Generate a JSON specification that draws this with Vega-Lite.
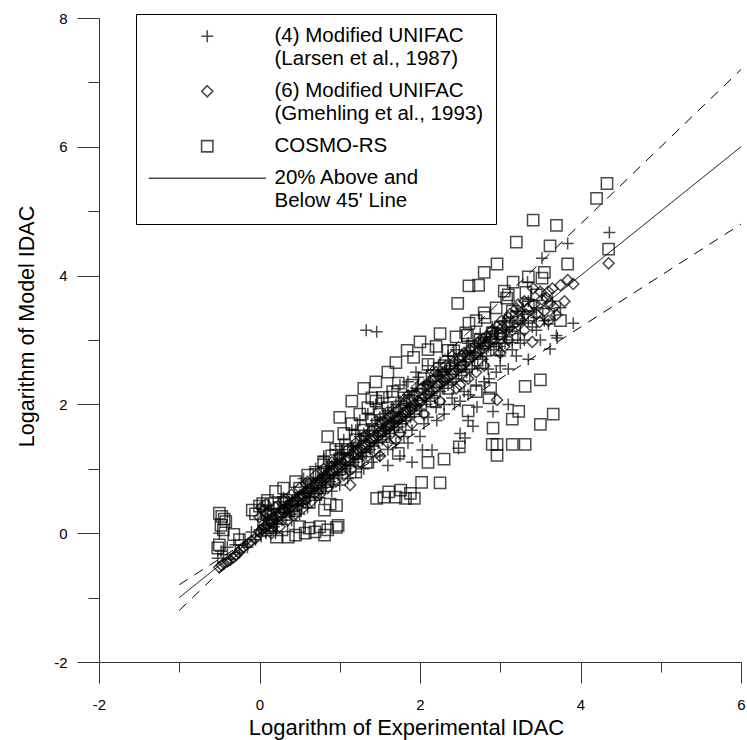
{
"$schema": "https://vega.github.io/schema/vega-lite/v6.json",
"width": 642,
"height": 644,
"autosize": "none",
"padding": {"left": 99, "top": 18, "right": 6, "bottom": 78},
"background": "white",
"config": {"font": "Liberation Sans", "view": {"stroke": null}},
"resolve": {"axis": {"x": "independent", "y": "independent"}},
"datasets": {
"lines": [
{"line": "45", "x": -1, "y": -1}, {"line": "45", "x": 6, "y": 6},
{"line": "upper", "x": -1, "y": -1.2}, {"line": "upper", "x": 6, "y": 7.2},
{"line": "lower", "x": -1, "y": -0.8}, {"line": "lower", "x": 6, "y": 4.8}
],
"larsen": [
{"x":-0.52,"y":-0.39},{"x":-0.5,"y":0.0},{"x":-0.48,"y":-0.28},{"x":-0.45,"y":-0.33},{"x":-0.4,"y":-0.22},{"x":-0.36,"y":-0.4},{"x":-0.3,"y":-0.18},{"x":-0.25,"y":-0.3},{"x":-0.2,"y":-0.1},{"x":-0.15,"y":-0.22},{"x":-0.1,"y":0.02},{"x":-0.05,"y":-0.1},{"x":0.0,"y":0.05},{"x":0.02,"y":-0.05},{"x":0.05,"y":0.12},{"x":0.08,"y":0.0},{"x":0.1,"y":0.2},{"x":0.12,"y":0.08},{"x":0.15,"y":0.3},{"x":0.18,"y":0.1},{"x":0.2,"y":0.25},{"x":0.22,"y":0.15},{"x":0.25,"y":0.38},{"x":0.28,"y":0.2},{"x":0.3,"y":0.32},{"x":0.33,"y":0.25},{"x":0.35,"y":0.45},{"x":0.38,"y":0.3},{"x":0.4,"y":0.5},{"x":0.43,"y":0.35},{"x":0.45,"y":0.55},{"x":0.48,"y":0.42},{"x":0.5,"y":0.6},{"x":0.53,"y":0.45},{"x":0.55,"y":0.62},{"x":0.58,"y":0.5},{"x":0.6,"y":0.72},{"x":0.63,"y":0.55},{"x":0.65,"y":0.7},{"x":0.68,"y":0.62},{"x":0.7,"y":0.82},{"x":0.73,"y":0.65},{"x":0.75,"y":0.85},{"x":0.78,"y":0.7},{"x":0.8,"y":0.9},{"x":0.83,"y":0.75},{"x":0.85,"y":1.0},{"x":0.88,"y":0.8},{"x":0.9,"y":1.05},{"x":0.93,"y":0.85},{"x":0.95,"y":1.1},{"x":0.98,"y":0.9},{"x":1.0,"y":1.15},{"x":1.03,"y":0.95},{"x":1.05,"y":1.25},{"x":1.08,"y":1.0},{"x":1.1,"y":1.3},{"x":1.13,"y":1.05},{"x":1.15,"y":1.35},{"x":1.18,"y":1.1},{"x":1.2,"y":1.4},{"x":1.23,"y":1.15},{"x":1.25,"y":1.5},{"x":1.28,"y":1.2},{"x":1.3,"y":1.55},{"x":1.33,"y":1.25},{"x":1.35,"y":1.6},{"x":1.38,"y":1.3},{"x":1.4,"y":1.7},{"x":1.43,"y":1.35},{"x":1.45,"y":1.75},{"x":1.48,"y":1.4},{"x":1.5,"y":1.8},{"x":1.53,"y":1.45},{"x":1.55,"y":1.85},{"x":1.58,"y":1.5},{"x":1.6,"y":1.9},{"x":1.6,"y":1.05},{"x":1.63,"y":1.55},{"x":1.65,"y":1.95},{"x":1.68,"y":1.6},{"x":1.7,"y":2.0},{"x":1.73,"y":1.65},{"x":1.75,"y":2.05},{"x":1.75,"y":1.2},{"x":1.78,"y":1.7},{"x":1.8,"y":2.1},{"x":1.83,"y":1.75},{"x":1.85,"y":2.15},{"x":1.85,"y":1.4},{"x":1.88,"y":1.8},{"x":1.9,"y":2.2},{"x":1.9,"y":1.1},{"x":1.93,"y":1.85},{"x":1.95,"y":2.25},{"x":1.98,"y":2.42},{"x":2.0,"y":1.9},{"x":2.0,"y":1.5},{"x":2.03,"y":1.29},{"x":2.05,"y":2.3},{"x":2.08,"y":2.0},{"x":2.1,"y":2.35},{"x":2.13,"y":2.05},{"x":2.15,"y":1.29},{"x":2.18,"y":2.1},{"x":2.2,"y":2.45},{"x":2.21,"y":1.75},{"x":2.25,"y":2.2},{"x":2.28,"y":2.5},{"x":2.3,"y":2.25},{"x":2.33,"y":2.55},{"x":2.35,"y":2.3},{"x":2.38,"y":2.6},{"x":2.4,"y":2.35},{"x":2.43,"y":2.0},{"x":2.45,"y":2.4},{"x":2.47,"y":2.66},{"x":2.48,"y":1.32},{"x":2.5,"y":1.55},{"x":2.52,"y":2.45},{"x":2.55,"y":2.75},{"x":2.56,"y":1.48},{"x":2.58,"y":2.5},{"x":2.6,"y":1.75},{"x":2.62,"y":2.8},{"x":2.65,"y":2.55},{"x":2.66,"y":1.66},{"x":2.68,"y":2.9},{"x":2.71,"y":1.96},{"x":2.72,"y":2.6},{"x":2.75,"y":2.95},{"x":2.78,"y":2.7},{"x":2.8,"y":3.0},{"x":2.83,"y":2.75},{"x":2.86,"y":2.4},{"x":2.88,"y":3.05},{"x":2.91,"y":1.89},{"x":2.92,"y":2.85},{"x":2.95,"y":3.1},{"x":2.98,"y":2.9},{"x":3.0,"y":2.6},{"x":3.03,"y":3.15},{"x":3.06,"y":2.95},{"x":3.1,"y":2.0},{"x":3.12,"y":3.2},{"x":3.15,"y":3.0},{"x":3.2,"y":2.75},{"x":3.22,"y":3.3},{"x":3.25,"y":3.1},{"x":3.3,"y":3.4},{"x":3.34,"y":3.9},{"x":3.35,"y":2.7},{"x":3.4,"y":3.2},{"x":3.45,"y":3.5},{"x":3.52,"y":4.27},{"x":3.55,"y":3.3},{"x":3.62,"y":2.86},{"x":3.65,"y":3.6},{"x":3.7,"y":3.07},{"x":3.71,"y":3.03},{"x":3.75,"y":3.5},{"x":3.84,"y":4.5},{"x":3.91,"y":3.26},{"x":4.36,"y":4.67},
{"x":0.1,"y":0.35},{"x":0.2,"y":0.0},{"x":0.3,"y":0.55},{"x":0.4,"y":0.2},{"x":0.5,"y":0.3},{"x":0.55,"y":0.85},{"x":0.6,"y":0.4},{"x":0.7,"y":1.0},{"x":0.75,"y":0.55},{"x":0.8,"y":1.15},{"x":0.9,"y":0.65},{"x":0.95,"y":1.3},{"x":1.0,"y":0.75},{"x":1.05,"y":1.45},{"x":1.1,"y":0.85},{"x":1.15,"y":1.6},{"x":1.2,"y":0.95},{"x":1.25,"y":1.75},{"x":1.3,"y":1.0},{"x":1.35,"y":1.85},{"x":1.4,"y":1.1},{"x":1.45,"y":2.0},{"x":1.5,"y":1.2},{"x":1.55,"y":2.1},{"x":1.6,"y":1.3},{"x":1.65,"y":2.2},{"x":1.7,"y":1.4},{"x":1.75,"y":2.3},{"x":1.8,"y":1.5},{"x":1.85,"y":2.35},{"x":1.9,"y":1.6},{"x":1.95,"y":2.5},{"x":2.05,"y":1.7},{"x":2.1,"y":2.6},{"x":2.2,"y":1.95},{"x":2.25,"y":2.65},{"x":2.3,"y":2.0},{"x":2.35,"y":2.75},{"x":2.4,"y":2.1},{"x":2.45,"y":2.85},{"x":2.55,"y":2.2},{"x":2.6,"y":2.95},{"x":2.7,"y":2.3},{"x":2.75,"y":3.1},{"x":2.85,"y":2.55},{"x":2.9,"y":3.2},{"x":3.0,"y":2.75},{"x":3.05,"y":3.3},{"x":3.15,"y":2.85},{"x":3.2,"y":3.45},{"x":3.3,"y":3.0},{"x":3.35,"y":3.6},{"x":3.45,"y":3.15},{"x":1.33,"y":3.15},{"x":1.46,"y":3.13},
{"x":1.55,"y":1.65},{"x":1.65,"y":1.75},{"x":1.75,"y":1.85},{"x":1.85,"y":1.95},{"x":1.95,"y":2.0},{"x":2.05,"y":2.1},{"x":2.15,"y":2.2},{"x":2.25,"y":2.35},{"x":2.35,"y":2.4},{"x":2.45,"y":2.55},{"x":2.55,"y":2.6},{"x":2.65,"y":2.7},{"x":2.75,"y":2.8},{"x":2.85,"y":2.9},{"x":2.95,"y":2.95},{"x":3.05,"y":3.05},{"x":3.15,"y":3.2},{"x":3.25,"y":3.25},{"x":3.35,"y":3.3},{"x":3.45,"y":3.35},{"x":2.1,"y":1.8},{"x":2.3,"y":1.85},{"x":2.5,"y":2.05},{"x":2.6,"y":2.15},{"x":2.8,"y":2.35},{"x":2.95,"y":2.5},{"x":3.1,"y":2.55},{"x":3.25,"y":2.95},{"x":3.5,"y":3.0},{"x":3.6,"y":3.25},{"x":1.2,"y":1.6},{"x":1.0,"y":1.35},{"x":0.8,"y":1.2}
],
"gmehling": [
{"x":-0.5,"y":-0.53},{"x":-0.47,"y":-0.5},{"x":-0.44,"y":-0.47},{"x":-0.4,"y":-0.44},{"x":-0.37,"y":-0.42},{"x":-0.33,"y":-0.38},{"x":-0.29,"y":-0.34},{"x":-0.26,"y":-0.3},{"x":-0.24,"y":-0.26},{"x":-0.2,"y":-0.22},{"x":-0.14,"y":-0.16},{"x":-0.1,"y":-0.12},{"x":-0.05,"y":-0.08},{"x":0.0,"y":0.02},{"x":0.03,"y":0.06},{"x":0.05,"y":0.35},{"x":0.06,"y":0.1},{"x":0.08,"y":0.45},{"x":0.1,"y":0.12},{"x":0.12,"y":0.2},{"x":0.15,"y":0.18},{"x":0.18,"y":0.25},{"x":0.2,"y":0.22},{"x":0.23,"y":0.3},{"x":0.25,"y":0.28},{"x":0.28,"y":0.36},{"x":0.3,"y":0.33},{"x":0.33,"y":0.4},{"x":0.35,"y":0.38},{"x":0.38,"y":0.45},{"x":0.4,"y":0.42},{"x":0.43,"y":0.5},{"x":0.45,"y":0.48},{"x":0.48,"y":0.56},{"x":0.5,"y":0.53},{"x":0.53,"y":0.6},{"x":0.55,"y":0.58},{"x":0.58,"y":0.66},{"x":0.6,"y":0.63},{"x":0.63,"y":0.7},{"x":0.65,"y":0.68},{"x":0.68,"y":0.76},{"x":0.7,"y":0.73},{"x":0.73,"y":0.8},{"x":0.75,"y":0.78},{"x":0.78,"y":0.86},{"x":0.8,"y":0.83},{"x":0.83,"y":0.9},{"x":0.85,"y":0.88},{"x":0.88,"y":0.96},{"x":0.9,"y":0.93},{"x":0.93,"y":1.0},{"x":0.95,"y":0.98},{"x":0.98,"y":1.06},{"x":1.0,"y":1.03},{"x":1.03,"y":1.1},{"x":1.05,"y":1.08},{"x":1.08,"y":1.16},{"x":1.1,"y":1.13},{"x":1.13,"y":0.75},{"x":1.15,"y":1.2},{"x":1.18,"y":1.26},{"x":1.2,"y":1.22},{"x":1.23,"y":1.3},{"x":1.25,"y":1.28},{"x":1.28,"y":1.36},{"x":1.3,"y":1.33},{"x":1.33,"y":1.4},{"x":1.35,"y":1.38},{"x":1.38,"y":1.46},{"x":1.4,"y":1.43},{"x":1.43,"y":1.5},{"x":1.45,"y":1.48},{"x":1.48,"y":1.56},{"x":1.5,"y":1.52},{"x":1.5,"y":1.2},{"x":1.53,"y":1.6},{"x":1.55,"y":1.58},{"x":1.58,"y":1.66},{"x":1.6,"y":1.62},{"x":1.63,"y":1.7},{"x":1.65,"y":1.68},{"x":1.68,"y":1.76},{"x":1.7,"y":1.72},{"x":1.7,"y":1.45},{"x":1.73,"y":1.8},{"x":1.75,"y":1.78},{"x":1.78,"y":1.86},{"x":1.8,"y":1.83},{"x":1.83,"y":1.9},{"x":1.85,"y":1.88},{"x":1.88,"y":1.96},{"x":1.9,"y":1.93},{"x":1.93,"y":2.0},{"x":1.95,"y":1.98},{"x":1.98,"y":2.06},{"x":2.0,"y":2.03},{"x":2.05,"y":2.12},{"x":2.1,"y":2.15},{"x":2.15,"y":2.22},{"x":2.2,"y":2.25},{"x":2.2,"y":2.5},{"x":2.25,"y":2.32},{"x":2.3,"y":2.36},{"x":2.35,"y":2.42},{"x":2.4,"y":2.46},{"x":2.4,"y":2.75},{"x":2.45,"y":2.52},{"x":2.5,"y":2.58},{"x":2.5,"y":2.3},{"x":2.55,"y":2.62},{"x":2.6,"y":2.7},{"x":2.65,"y":2.74},{"x":2.7,"y":2.8},{"x":2.7,"y":2.5},{"x":2.75,"y":2.85},{"x":2.8,"y":2.92},{"x":2.85,"y":2.96},{"x":2.9,"y":3.02},{"x":2.96,"y":3.21},{"x":2.96,"y":2.07},{"x":3.0,"y":3.08},{"x":3.0,"y":2.8},{"x":3.03,"y":3.2},{"x":3.1,"y":3.35},{"x":3.15,"y":3.15},{"x":3.2,"y":3.49},{"x":3.25,"y":3.3},{"x":3.34,"y":3.49},{"x":3.4,"y":2.97},{"x":3.41,"y":3.8},{"x":3.49,"y":3.28},{"x":3.52,"y":3.63},{"x":3.55,"y":3.45},{"x":3.62,"y":3.57},{"x":3.67,"y":3.51},{"x":3.7,"y":3.39},{"x":3.84,"y":3.93},{"x":3.91,"y":3.87},{"x":4.35,"y":4.19},
{"x":0.0,"y":0.25},{"x":0.02,"y":0.4},{"x":0.1,"y":0.3},{"x":0.15,"y":0.0},{"x":0.2,"y":0.4},{"x":0.25,"y":0.1},{"x":0.3,"y":0.5},{"x":0.35,"y":0.2},{"x":0.4,"y":0.6},{"x":0.45,"y":0.3},{"x":0.5,"y":0.7},{"x":0.55,"y":0.4},{"x":0.6,"y":0.8},{"x":0.65,"y":0.5},{"x":0.7,"y":0.9},{"x":0.75,"y":0.6},{"x":0.8,"y":1.0},{"x":0.85,"y":0.7},{"x":0.9,"y":1.1},{"x":0.95,"y":0.8},{"x":1.0,"y":1.2},{"x":1.05,"y":0.9},{"x":1.1,"y":1.3},{"x":1.15,"y":1.0},{"x":1.2,"y":1.4},{"x":1.25,"y":1.1},{"x":1.3,"y":1.5},{"x":1.35,"y":1.2},{"x":1.4,"y":1.6},{"x":1.45,"y":1.3},{"x":1.55,"y":1.75},{"x":1.6,"y":1.4},{"x":1.65,"y":1.85},{"x":1.75,"y":1.55},{"x":1.8,"y":2.0},{"x":1.9,"y":1.7},{"x":1.95,"y":2.15},{"x":2.05,"y":1.85},{"x":2.1,"y":2.3},{"x":2.25,"y":2.05},{"x":2.3,"y":2.5},{"x":2.45,"y":2.25},{"x":2.55,"y":2.8},{"x":2.6,"y":2.4},{"x":2.75,"y":3.0},{"x":2.8,"y":2.6},{"x":2.9,"y":3.15},{"x":3.05,"y":2.9},{"x":3.1,"y":3.0},{"x":3.3,"y":3.15},{"x":3.3,"y":3.6},{"x":3.45,"y":3.4},{"x":3.6,"y":3.75},
{"x":1.52,"y":1.7},{"x":1.62,"y":1.8},{"x":1.72,"y":1.9},{"x":1.82,"y":2.05},{"x":1.92,"y":2.15},{"x":2.02,"y":2.25},{"x":2.12,"y":2.35},{"x":2.22,"y":2.45},{"x":2.32,"y":2.6},{"x":2.42,"y":2.65},{"x":2.52,"y":2.75},{"x":2.62,"y":2.85},{"x":2.72,"y":2.95},{"x":2.82,"y":3.05},{"x":2.92,"y":3.1},{"x":3.02,"y":3.3},{"x":3.12,"y":3.4},{"x":3.22,"y":3.55},{"x":3.32,"y":3.4},{"x":3.42,"y":3.55},{"x":3.5,"y":3.75},{"x":3.58,"y":3.65},{"x":3.65,"y":3.8},{"x":3.75,"y":3.85},{"x":3.6,"y":3.3},{"x":3.8,"y":3.6}
],
"cosmo": [
{"x":-0.5,"y":0.31},{"x":-0.47,"y":0.26},{"x":-0.44,"y":0.22},{"x":-0.48,"y":0.12},{"x":-0.42,"y":0.18},{"x":-0.45,"y":0.05},{"x":-0.52,"y":-0.23},{"x":-0.5,"y":-0.18},{"x":-0.32,"y":-0.02},{"x":-0.25,"y":-0.1},{"x":-0.09,"y":0.36},{"x":-0.05,"y":0.3},{"x":0.0,"y":0.42},{"x":0.04,"y":0.46},{"x":0.08,"y":0.35},{"x":0.1,"y":0.51},{"x":0.14,"y":0.3},{"x":0.19,"y":0.46},{"x":0.25,"y":0.4},{"x":0.3,"y":0.48},{"x":0.34,"y":0.51},{"x":0.4,"y":0.42},{"x":0.45,"y":0.35},{"x":0.05,"y":0.15},{"x":0.1,"y":0.05},{"x":0.15,"y":0.12},{"x":0.21,"y":-0.06},{"x":0.28,"y":0.05},{"x":0.36,"y":-0.06},{"x":0.45,"y":-0.03},{"x":0.5,"y":0.1},{"x":0.57,"y":0.0},{"x":0.62,"y":0.08},{"x":0.69,"y":0.02},{"x":0.75,"y":0.1},{"x":0.81,"y":-0.03},{"x":0.85,"y":0.05},{"x":0.96,"y":0.09},{"x":0.98,"y":0.12},{"x":0.55,"y":0.55},{"x":0.62,"y":0.48},{"x":0.7,"y":0.6},{"x":0.81,"y":0.36},{"x":0.88,"y":0.45},{"x":0.96,"y":0.43},{"x":0.75,"y":0.7},{"x":0.85,"y":0.8},
{"x":0.7,"y":0.95},{"x":0.8,"y":1.1},{"x":0.9,"y":1.0},{"x":0.95,"y":1.3},{"x":1.0,"y":1.15},{"x":1.05,"y":1.55},{"x":1.1,"y":1.3},{"x":1.15,"y":1.7},{"x":1.2,"y":1.45},{"x":1.25,"y":1.85},{"x":1.3,"y":1.6},{"x":1.35,"y":1.95},{"x":1.4,"y":1.75},{"x":1.45,"y":2.05},{"x":1.5,"y":1.85},{"x":1.53,"y":2.11},{"x":1.6,"y":1.95},{"x":1.66,"y":2.2},{"x":1.73,"y":2.33},{"x":1.8,"y":2.1},{"x":1.84,"y":2.84},{"x":1.9,"y":2.3},{"x":1.92,"y":2.73},{"x":2.0,"y":2.97},{"x":2.05,"y":2.4},{"x":2.1,"y":2.62},{"x":2.15,"y":2.45},{"x":2.2,"y":2.9},{"x":2.24,"y":2.55},{"x":2.3,"y":2.6},{"x":2.35,"y":2.84},{"x":2.42,"y":2.83},{"x":2.47,"y":3.57},{"x":2.5,"y":2.7},{"x":2.57,"y":3.11},{"x":2.59,"y":3.07},{"x":2.61,"y":3.26},{"x":2.61,"y":3.84},{"x":2.65,"y":2.9},{"x":2.73,"y":3.85},{"x":2.75,"y":3.0},{"x":2.8,"y":3.42},{"x":2.81,"y":3.35},{"x":2.8,"y":4.05},{"x":2.9,"y":3.1},{"x":2.96,"y":4.18},{"x":3.0,"y":3.2},{"x":3.05,"y":3.76},{"x":3.08,"y":3.65},{"x":3.1,"y":3.7},{"x":3.16,"y":3.9},{"x":3.2,"y":4.52},{"x":3.32,"y":3.74},{"x":3.35,"y":3.98},{"x":3.35,"y":3.35},{"x":3.35,"y":3.54},{"x":3.41,"y":4.86},{"x":3.52,"y":3.96},{"x":3.62,"y":4.46},{"x":3.7,"y":4.78},{"x":3.84,"y":4.18},{"x":4.35,"y":4.41},{"x":4.33,"y":5.43},{"x":4.2,"y":5.2},{"x":3.75,"y":3.3},{"x":3.6,"y":3.4},
{"x":1.2,"y":0.95},{"x":1.35,"y":1.1},{"x":1.46,"y":0.54},{"x":1.55,"y":0.56},{"x":1.61,"y":0.64},{"x":1.7,"y":0.56},{"x":1.76,"y":0.67},{"x":1.82,"y":0.54},{"x":1.88,"y":0.62},{"x":1.93,"y":0.54},{"x":2.02,"y":0.79},{"x":2.25,"y":0.78},{"x":1.73,"y":1.24},{"x":2.1,"y":1.1},{"x":2.3,"y":1.15},{"x":2.49,"y":1.34},{"x":2.88,"y":2.25},{"x":2.86,"y":2.1},{"x":3.31,"y":2.28},{"x":3.5,"y":2.38},{"x":3.23,"y":1.89},{"x":3.15,"y":1.77},{"x":3.66,"y":1.85},{"x":3.5,"y":1.69},{"x":2.91,"y":1.63},{"x":2.9,"y":1.38},{"x":2.96,"y":1.38},{"x":3.15,"y":1.38},{"x":3.31,"y":1.38},{"x":2.96,"y":1.21},{"x":2.6,"y":1.9},{"x":2.7,"y":2.2},
{"x":0.5,"y":0.7},{"x":0.6,"y":0.9},{"x":0.65,"y":0.75},{"x":0.8,"y":0.95},{"x":0.9,"y":1.2},{"x":1.0,"y":1.0},{"x":1.1,"y":1.15},{"x":1.2,"y":1.25},{"x":1.3,"y":1.35},{"x":1.4,"y":1.5},{"x":1.5,"y":1.6},{"x":1.6,"y":1.7},{"x":1.7,"y":1.8},{"x":1.8,"y":1.9},{"x":1.9,"y":2.05},{"x":2.0,"y":2.15},{"x":2.1,"y":2.25},{"x":2.2,"y":2.35},{"x":2.3,"y":2.45},{"x":2.4,"y":2.55},{"x":2.5,"y":2.6},{"x":2.6,"y":2.75},{"x":2.7,"y":2.85},{"x":2.8,"y":2.95},{"x":2.9,"y":3.05},{"x":3.0,"y":3.1},{"x":3.1,"y":3.25},{"x":3.2,"y":3.35},{"x":1.0,"y":1.8},{"x":0.85,"y":1.5},{"x":1.15,"y":2.05},{"x":1.3,"y":2.25},{"x":1.45,"y":2.35},{"x":1.6,"y":2.5},{"x":0.3,"y":0.7},{"x":0.2,"y":0.65},{"x":0.45,"y":0.8},
{"x":1.55,"y":1.5},{"x":1.75,"y":1.65},{"x":1.95,"y":1.9},{"x":2.15,"y":2.05},{"x":2.35,"y":2.25},{"x":2.55,"y":2.45},{"x":2.75,"y":2.65},{"x":2.95,"y":2.85},{"x":3.15,"y":3.05},{"x":2.45,"y":3.05},{"x":2.25,"y":3.1},{"x":2.7,"y":3.3},{"x":2.95,"y":3.5},{"x":3.15,"y":3.45},{"x":3.45,"y":3.7},{"x":3.55,"y":4.05},{"x":2.1,"y":2.85},{"x":1.7,"y":2.65},{"x":1.4,"y":2.1}
]
},
"layer": [
{
"data": {"name": "lines"},
"mark": {"type": "line", "color": "black", "strokeWidth": 1},
"encoding": {
"x": {"field": "x", "type": "quantitative",
"scale": {"domain": [-2, 6], "nice": false, "zero": false},
"axis": {"orient": "bottom", "title": "Logarithm of Experimental IDAC", "values": [-2, 0, 2, 4, 6],
"labelExpr": "toString(datum.value)", "tickSize": 21,
"labelPadding": 14, "labelFontSize": 15, "labelColor": "black", "labelFlush": false, "labelOverlap": false,
"domainColor": "#333", "tickColor": "#333", "grid": false,
"titleFontSize": 22, "titleFontWeight": "normal", "titleColor": "black",
"titleX": 307, "titleY": 72, "titleBaseline": "alphabetic", "titleAlign": "center"}},
"y": {"field": "y", "type": "quantitative",
"scale": {"domain": [-2, 8], "nice": false, "zero": false},
"axis": {"orient": "left", "title": "Logarithm of Model IDAC", "values": [-2, 0, 2, 4, 6, 8],
"labelExpr": "toString(datum.value)", "tickSize": 22,
"labelPadding": 10, "labelFontSize": 15, "labelColor": "black", "labelFlush": false, "labelOverlap": false,
"domainColor": "#333", "tickColor": "#333", "grid": false,
"titleFontSize": 21.5, "titleFontWeight": "normal", "titleColor": "black",
"titleX": -66, "titleY": 308, "titleBaseline": "alphabetic", "titleAlign": "center", "titleAngle": 270}},
"detail": {"field": "line", "type": "nominal"},
"strokeDash": {"field": "line", "type": "nominal",
"scale": {"domain": ["45", "upper", "lower"], "range": [[1, 0], [10, 8], [10, 8]]}, "legend": null}
}
},
{
"data": {"name": "larsen"},
"mark": {"type": "point", "filled": false, "color": "black", "strokeWidth": 1.5, "size": 144},
"encoding": {
"x": {"field": "x", "type": "quantitative",
"axis": {"orient": "bottom", "title": null, "values": [-1, 1, 3, 5], "labels": false, "domain": false, "tickSize": 10, "tickColor": "#333", "grid": false}},
"y": {"field": "y", "type": "quantitative",
"axis": {"orient": "left", "title": null, "values": [-1, 1, 3, 5, 7], "labels": false, "domain": false, "tickSize": 11, "tickColor": "#333", "grid": false}},
"shape": {"datum": "(4) Modified UNIFAC|(Larsen et al., 1987)", "type": "nominal",
"scale": {"domain": ["(4) Modified UNIFAC|(Larsen et al., 1987)", "(6) Modified UNIFAC|(Gmehling et al., 1993)", "COSMO-RS", "20% Above and|Below 45' Line"],
"range": ["M-1,0H1M0,-1V1", "M0,-0.92L0.92,0L0,0.92L-0.92,0Z", "M-0.94,-0.94H0.94V0.94H-0.94Z", "M-9.75,0H9.75"]},
"legend": {"orient": "none", "legendX": 37, "legendY": -4, "title": null,
"labelExpr": "split(datum.label, '|')",
"labelFontSize": 20.5, "labelLimit": 400, "labelOffset": 57, "labelColor": "black", "labelBaseline": "middle",
"symbolSize": 144, "symbolStrokeWidth": 1.6, "symbolStrokeColor": "black", "symbolFillColor": "transparent",
"strokeColor": "black", "fillColor": "white", "padding": 12, "rowPadding": 11, "symbolOffset": 49}}
}
},
{
"data": {"name": "gmehling"},
"mark": {"type": "point", "filled": false, "color": "black", "strokeWidth": 1.5, "size": 144},
"encoding": {
"x": {"field": "x", "type": "quantitative", "axis": null},
"y": {"field": "y", "type": "quantitative", "axis": null},
"shape": {"datum": "(6) Modified UNIFAC|(Gmehling et al., 1993)", "type": "nominal"}
}
},
{
"data": {"name": "cosmo"},
"mark": {"type": "point", "filled": false, "color": "black", "strokeWidth": 1.5, "size": 144},
"encoding": {
"x": {"field": "x", "type": "quantitative", "axis": null},
"y": {"field": "y", "type": "quantitative", "axis": null},
"shape": {"datum": "COSMO-RS", "type": "nominal"}
}
}
]
}
